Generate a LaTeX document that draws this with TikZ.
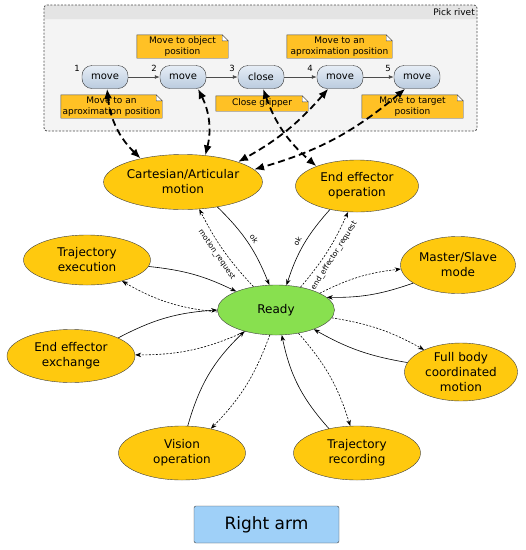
\documentclass[tikz,border=0pt]{standalone}
\usepackage{fontspec}
\setmainfont{DejaVu Sans}
\usetikzlibrary{positioning,arrows.meta,shapes.geometric,backgrounds}

\definecolor{stateorange}{HTML}{FFC90E}
\definecolor{readygreen}{HTML}{88E04F}
\definecolor{notefill}{HTML}{FFC125}
\definecolor{armblue}{HTML}{9FD0F8}
\definecolor{boxgray}{HTML}{F4F4F4}
\definecolor{headgray}{HTML}{E4E4E4}
\definecolor{tasktop}{HTML}{E6EDF5}
\definecolor{taskbottom}{HTML}{BACBDF}

% yellow note with a folded corner, drawn behind its text node
\newcommand{\notefold}[1]{%
  \begin{scope}[on background layer]
    \filldraw[draw=black!70, fill=notefill] (#1.south west) -- (#1.south east) -- ([yshift=-6pt]#1.north east)
      -- ([xshift=-6pt]#1.north east) -- (#1.north west) -- cycle;
    \filldraw[draw=black!70, fill=white] ([xshift=-6pt]#1.north east) -- ([xshift=-6pt,yshift=-6pt]#1.north east)
      -- ([yshift=-6pt]#1.north east) -- cycle;
  \end{scope}}

\begin{document}
\begin{tikzpicture}[x=1pt, y=1pt,
  state/.style={ellipse, draw=black!75, fill=stateorange, align=center, inner sep=0pt, font=\fontsize{12}{15}\selectfont},
  task/.style={draw=black!80, rounded corners=10pt, top color=tasktop, bottom color=taskbottom, minimum width=46pt, minimum height=23pt, inner sep=0pt, font=\fontsize{10}{12}\selectfont},
  note/.style={align=center, inner sep=1.5pt, font=\fontsize{9}{10.5}\selectfont},
  num/.style={inner sep=0pt, font=\fontsize{8.5}{10}\selectfont},
  flow/.style={-{Latex[length=5pt,width=4pt]}, draw=black!70, line width=0.8pt},
  edgeline/.style={-{Stealth[length=6pt,width=4.5pt]}, line width=0.6pt},
  reqline/.style={edgeline, dash pattern=on 2pt off 1.5pt},
  bigdash/.style={{Latex[length=10pt,width=8pt]}-{Latex[length=10pt,width=8pt]}, line width=1.8pt, dash pattern=on 7pt off 4pt},
  lbl/.style={sloped, inner sep=1pt, font=\fontsize{7.5}{9}\selectfont}]
\useasboundingbox (0,0) rectangle (526,-550);

% Pick rivet frame
\begin{scope}[on background layer]
  \fill[boxgray, rounded corners=3pt] (44,-5) rectangle (477,-131);
  \fill[headgray] (44,-19) [rounded corners=3pt] -- (44,-5) -- (477,-5) [sharp corners] -- (477,-19) -- cycle;
  \draw[black!70, line width=0.8pt, dash pattern=on 2pt off 1.5pt, rounded corners=3pt] (44,-5) rectangle (477,-131);
\end{scope}
\node[anchor=east, inner sep=1pt, font=\fontsize{9}{11}\selectfont] (title) at (476,-12.5) {Pick rivet};

% tasks
\node[task] (move1) at (105,-77) {move};
\node[task] (move2) at (183,-77) {move};
\node[task] (close) at (261,-77) {close};
\node[task] (move4) at (340,-77) {move};
\node[task] (move5) at (417,-77) {move};
\node[num] (n1) at (77,-68) {1};
\node[num] (n2) at (154,-68) {2};
\node[num] (n3) at (232,-68) {3};
\node[num] (n4) at (310,-68) {4};
\node[num] (n5) at (388,-68) {5};
\draw[flow] (move1) -- (move2);
\draw[flow] (move2) -- (close);
\draw[flow] (close) -- (move4);
\draw[flow] (move4) -- (move5);

% notes
\node[note, minimum width=91pt, minimum height=23pt] (nobj) at (182.5,-46.5) {Move to object\\position};
\node[note, minimum width=105pt, minimum height=23pt] (napprox4) at (339.5,-46.5) {Move to an\\aproximation position};
\node[note, minimum width=101pt, minimum height=23pt] (napprox1) at (111.5,-106.5) {Move to an\\aproximation position};
\node[note, minimum width=92pt, minimum height=15pt] (ngrip) at (262,-103.5) {Close gripper};
\node[note, minimum width=101pt, minimum height=23pt] (ntarget) at (412.5,-106.5) {Move to target\\position};
\notefold{nobj}
\notefold{napprox4}
\notefold{napprox1}
\notefold{ngrip}
\notefold{ntarget}

% states
\node[state, minimum width=127pt, minimum height=55pt] (cart) at (183,-182) {Cartesian/Articular\\motion};
\node[state, minimum width=123pt, minimum height=52pt] (eeop) at (357,-186) {End effector\\operation};
\node[state, minimum width=127pt, minimum height=50pt] (trajexec) at (87,-260) {Trajectory\\execution};
\node[state, minimum width=115pt, minimum height=57pt] (master) at (458,-265) {Master/Slave\\mode};
\node[state, fill=readygreen, minimum width=117pt, minimum height=50pt] (ready) at (276,-310) {Ready};
\node[state, minimum width=128pt, minimum height=53pt] (exchange) at (71,-356) {End effector\\exchange};
\node[state, minimum width=113pt, minimum height=58pt] (fullbody) at (461,-372) {Full body\\coordinated\\motion};
\node[state, minimum width=127pt, minimum height=54pt] (vision) at (182,-453) {Vision\\operation};
\node[state, minimum width=127pt, minimum height=54pt] (recording) at (357,-453) {Trajectory\\recording};

\node[draw=black!75, fill=armblue, rounded corners=2pt, minimum width=145pt, minimum height=37pt, font=\fontsize{17}{20}\selectfont] (arm) at (266.5,-524.5) {Right arm};

% tasks to states
\draw[bigdash] (move1.-80) to[bend right=20] (cart.151);
\draw[bigdash] (move2.-38) to[bend left=20] (cart.50);
\draw[bigdash] (close.-80) to[bend right=15] (eeop.154);
\draw[bigdash] (move4.225) to[bend left=10] (cart.20);
\draw[bigdash] (move5.225) to[bend left=12] (cart.10);

% states and Ready
\draw[reqline] (ready.134) to[bend left=8] node[lbl, below=3pt] {motion\_request} (cart.-59);
\draw[edgeline] (cart.-36) to[bend left=12] node[lbl, above=3pt] {ok} (ready.105);
\draw[edgeline] (eeop.221) to[bend right=12] node[lbl, above=3pt] {ok} (ready.67);
\draw[reqline] (ready.43) to[bend right=8] node[lbl, below=3pt] {end\_effector\_request} (eeop.251);
\draw[edgeline] (trajexec.-6) to[bend left=10] (ready.155);
\draw[reqline] (ready.182) to[bend left=12] (trajexec.-31);
\draw[reqline] (ready.21) to[bend left=10] (master.184);
\draw[edgeline] (master.202) to[bend left=10] (ready.14);
\draw[reqline] (ready.-8) to[bend left=10] (fullbody.149);
\draw[edgeline] (fullbody.170) to[bend left=10] (ready.-27);
\draw[edgeline] (exchange.21) to[bend left=12] (ready.180);
\draw[reqline] (ready.215) to[bend left=12] (exchange.1);
\draw[edgeline] (vision.78) to[bend left=15] (ready.214);
\draw[reqline] (ready.256) to[bend left=12] (vision.40);
\draw[edgeline] (recording.139) to[bend left=15] (ready.283);
\draw[reqline] (ready.314) to[bend left=12] (recording.104);
\end{tikzpicture}
\end{document}
